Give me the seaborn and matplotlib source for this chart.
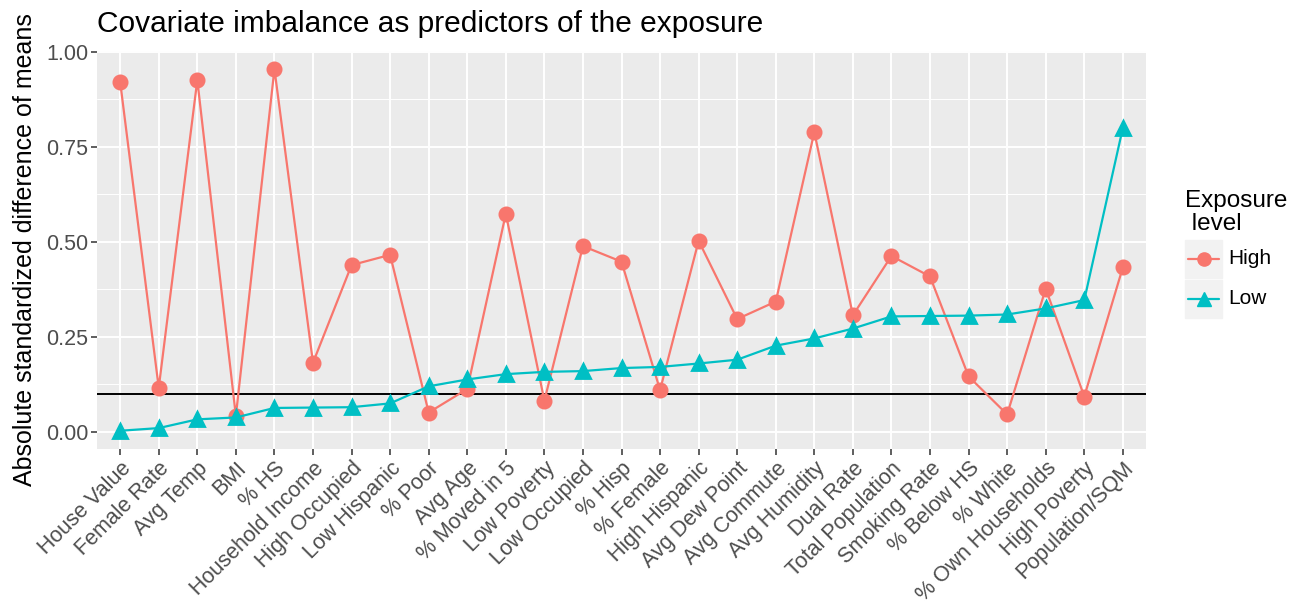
import matplotlib
matplotlib.use("Agg")
import matplotlib.pyplot as plt
import numpy as np
import pandas as pd
import seaborn as sns
from matplotlib.lines import Line2D
from matplotlib.patches import Rectangle

COVARIATES = [
    "House Value", "Female Rate", "Avg Temp", "BMI", "% HS", "Household Income",
    "High Occupied", "Low Hispanic", "% Poor", "Avg Age", "% Moved in 5",
    "Low Poverty", "Low Occupied", "% Hisp", "% Female", "High Hispanic",
    "Avg Dew Point", "Avg Commute", "Avg Humidity", "Dual Rate",
    "Total Population", "Smoking Rate", "% Below HS", "% White",
    "% Own Households", "High Poverty", "Population/SQM",
]
HIGH = [
    0.921, 0.116, 0.926, 0.042, 0.955, 0.182, 0.439, 0.466, 0.051, 0.113,
    0.574, 0.082, 0.489, 0.448, 0.110, 0.503, 0.297, 0.343, 0.789, 0.307,
    0.463, 0.409, 0.146, 0.046, 0.377, 0.093, 0.433,
]
LOW = [
    0.003, 0.010, 0.033, 0.038, 0.063, 0.064, 0.065, 0.075, 0.120, 0.138,
    0.152, 0.158, 0.160, 0.168, 0.171, 0.180, 0.190, 0.227, 0.246, 0.272,
    0.304, 0.305, 0.306, 0.309, 0.325, 0.347, 0.800,
]
LEVELS = ["High", "Low"]
THRESHOLD = 0.1
COLORS = {"High": "#F8766D", "Low": "#00BFC4"}

df = pd.DataFrame({
    "covariate": COVARIATES * 2,
    "value": HIGH + LOW,
    "level": ["High"] * len(HIGH) + ["Low"] * len(LOW),
})

sns.set_style("darkgrid", {"axes.facecolor": "#EBEBEB", "grid.color": "white",
                           "text.color": "black", "axes.labelcolor": "black"})
plt.rcParams["font.family"] = ["Liberation Sans", "DejaVu Sans"]

fig = plt.figure(figsize=(12.99, 6.14), dpi=100)
ax = fig.add_axes([0.0747, 0.269, 0.8075, 0.648])

sns.pointplot(
    data=df, x="covariate", y="value", hue="level", order=COVARIATES,
    hue_order=LEVELS, palette=COLORS, markers=["o", "^"], linestyles=["-", "-"],
    ax=ax, legend=False,
)
for line in ax.lines:
    line.set_linewidth(1.6)
    line.set_markersize(9.5)
ax.axhline(THRESHOLD, color="black", lw=1.4, zorder=1.5)

# ggplot-like 5% expansion of the data range
vals = np.array(HIGH + LOW)
span = vals.max() - vals.min()
ax.set_xlim(-0.6, len(COVARIATES) - 0.4)
ax.set_ylim(vals.min() - 0.05 * span, vals.max() + 0.05 * span)
ax.set_yticks([0, 0.25, 0.5, 0.75, 1.0])
ax.set_yticklabels(["0.00", "0.25", "0.50", "0.75", "1.00"])
ax.set_yticks([0.125, 0.375, 0.625, 0.875], minor=True)
ax.grid(True, which="major", color="white", lw=1.4)
ax.grid(True, which="minor", axis="y", color="white", lw=0.7)
for s in ax.spines.values():
    s.set_visible(False)
ax.tick_params(axis="both", which="major", length=4, width=1.1, color="#333333",
               labelsize=15.5, labelcolor="#4D4D4D", pad=2.5, bottom=True, left=True)
ax.tick_params(axis="y", which="minor", length=0)
ax.set_xticks(range(len(COVARIATES)))
ax.set_xticklabels(COVARIATES, rotation=45, ha="right", rotation_mode="anchor")
ax.set_xlabel("")
ax.set_ylabel("Absolute standardized difference of means", fontsize=18, labelpad=6,
              color="black")
ax.set_title("Covariate imbalance as predictors of the exposure", loc="left",
             fontsize=21.5, pad=14, color="black")

# legend in ggplot style
fig.text(0.912, 1 - 230 / 614, "Exposure\n level", fontsize=17.5, va="baseline",
         ha="left", linespacing=1.05, color="black")
key_x, key_w, key_h = 1185 / 1299, 37 / 1299, 40 / 614
for i, lvl in enumerate(LEVELS):
    y0 = 1 - (278 + 40 * i) / 614
    fig.patches.append(Rectangle((key_x, y0), key_w, key_h - 0.003,
                                 transform=fig.transFigure, color="#F2F2F2"))
    yc = y0 + key_h / 2 - 0.0015
    fig.lines.append(Line2D([key_x + 0.002, key_x + key_w - 0.002], [yc, yc],
                            transform=fig.transFigure, color=COLORS[lvl], lw=1.6))
    fig.lines.append(Line2D([key_x + key_w / 2], [yc], transform=fig.transFigure,
                            color=COLORS[lvl], marker="o" if lvl == "High" else "^",
                            markersize=9.5, lw=0))
    fig.text(1228 / 1299, yc, lvl, fontsize=15, va="center", ha="left", color="black")

fig.savefig("out.png", dpi=100)
